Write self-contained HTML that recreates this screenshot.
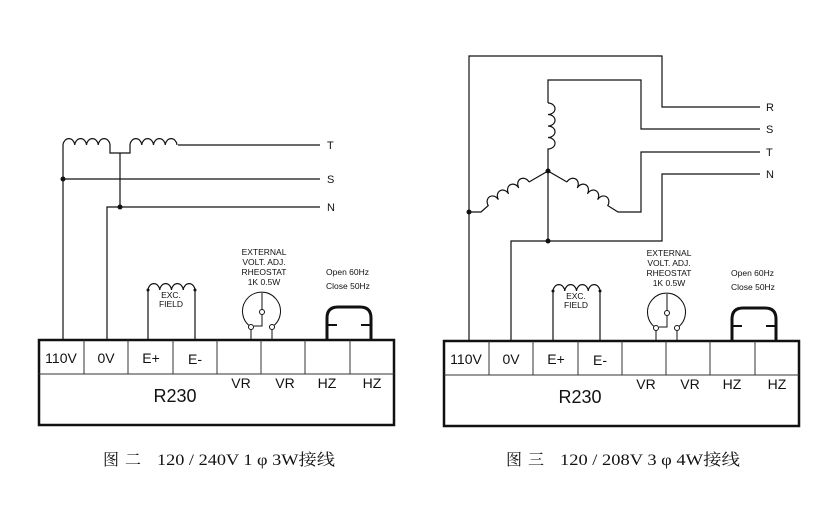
<!DOCTYPE html>
<html><head><meta charset="utf-8"><style>
html,body{margin:0;padding:0;background:#fff;width:835px;height:524px;overflow:hidden}
svg{display:block}
text{font-family:"Liberation Sans",Arial,sans-serif;fill:#111}
.cap{font-family:"Liberation Serif","Noto Serif CJK SC",serif;font-size:16px}
</style></head><body>
<svg width="835" height="524" viewBox="0 0 835 524" xmlns="http://www.w3.org/2000/svg">
<defs>
<g id="bottom">
  <rect x="39" y="340" width="355" height="85" fill="none" stroke="#111" stroke-width="2.5"/>
  <line x1="39" y1="374" x2="394" y2="374" stroke="#333" stroke-width="1"/>
  <g stroke="#333" stroke-width="1">
    <line x1="84" y1="340" x2="84" y2="374"/>
    <line x1="128" y1="340" x2="128" y2="374"/>
    <line x1="173" y1="340" x2="173" y2="374"/>
    <line x1="217" y1="340" x2="217" y2="374"/>
    <line x1="261" y1="340" x2="261" y2="374"/>
    <line x1="305" y1="340" x2="305" y2="374"/>
    <line x1="350" y1="340" x2="350" y2="374"/>
  </g>
  <g font-size="14">
    <text x="61" y="363" text-anchor="middle">110V</text>
    <text x="106" y="363" text-anchor="middle">0V</text>
    <text x="151" y="363" text-anchor="middle">E+</text>
    <text x="195" y="364" text-anchor="middle">E-</text>
    <text x="241" y="388" text-anchor="middle">VR</text>
    <text x="285" y="388" text-anchor="middle">VR</text>
    <text x="327" y="388" text-anchor="middle">HZ</text>
    <text x="372" y="388" text-anchor="middle">HZ</text>
  </g>
  <text x="175" y="402" font-size="18" text-anchor="middle">R230</text>
  <g fill="none" stroke="#111" stroke-width="1.2">
    <path d="M148 339 V290 M195 339 V290"/>
    <path d="M148 290 a5.9 7 0 0 1 11.75 0 a5.9 7 0 0 1 11.75 0 a5.9 7 0 0 1 11.75 0 a5.9 7 0 0 1 11.75 0"/>
  </g>
  <circle cx="148" cy="290" r="1.5" fill="#111"/><circle cx="195" cy="290" r="1.5" fill="#111"/>
  <text x="171" y="298" font-size="8.5" text-anchor="middle">EXC.</text>
  <text x="171" y="307" font-size="8.5" text-anchor="middle">FIELD</text>
  <g font-size="8.5" text-anchor="middle">
    <text x="264" y="255">EXTERNAL</text>
    <text x="264" y="265">VOLT. ADJ.</text>
    <text x="264" y="275">RHEOSTAT</text>
    <text x="264" y="285">1K 0.5W</text>
  </g>
  <g fill="none" stroke="#111" stroke-width="1">
    <path d="M251 327 A19 19 0 1 1 272 327"/>
    <path d="M262 293 V312"/>
    <path d="M262 315 V326 H254"/>
    <path d="M251 330 V340 M272 330 V340"/>
  </g>
  <circle cx="262" cy="312" r="2.5" fill="#fff" stroke="#111"/>
  <circle cx="251" cy="327" r="2.5" fill="#fff" stroke="#111"/>
  <circle cx="272" cy="327" r="2.5" fill="#fff" stroke="#111"/>
  <text x="326" y="275" font-size="8.5">Open  60Hz</text>
  <text x="326" y="289" font-size="8.5">Close 50Hz</text>
  <path d="M327 340 V318 Q327 307 338 307 H360 Q371 307 371 318 V340" fill="none" stroke="#111" stroke-width="3"/>
  <path d="M327 325 H337 M361 325 H371" stroke="#111" stroke-width="2"/>
</g>
</defs>

<use href="#bottom"/>
<g fill="none" stroke="#111" stroke-width="1.2">
  <path d="M63 145 V340"/>
  <path d="M107 340 V207 H320"/>
  <path d="M63 179 H320"/>
  <path d="M178 145 H320"/>
  <path d="M63 145 a5.9 7 0 0 1 11.75 0 a5.9 7 0 0 1 11.75 0 a5.9 7 0 0 1 11.75 0 a5.9 7 0 0 1 11.75 0"/>
  <path d="M130 145 a5.9 7 0 0 1 11.75 0 a5.9 7 0 0 1 11.75 0 a5.9 7 0 0 1 11.75 0 a5.9 7 0 0 1 11.75 0"/>
  <path d="M110 145 V153 H130 V145 M120 153 V207"/>
</g>
<circle cx="63" cy="179" r="2.5" fill="#111"/><circle cx="120" cy="207" r="2.5" fill="#111"/>
<g font-size="11"><text x="327" y="149">T</text><text x="327" y="183">S</text><text x="327" y="211">N</text></g>
<text class="cap" x="103" y="465" letter-spacing="6">图二</text>
<text class="cap" x="157" y="465" textLength="178" lengthAdjust="spacingAndGlyphs">120 / 240V 1 φ  3W接线</text>

<g transform="translate(405,1)"><use href="#bottom"/></g>
<g fill="none" stroke="#111" stroke-width="1.2">
  <path d="M469 341 V56 H662 V107 H760"/>
  <path d="M548 103 V80 H641 V129 H760"/>
  <path d="M548 103 a7 5.75 0 0 1 0 11.5 a7 5.75 0 0 1 0 11.5 a7 5.75 0 0 1 0 11.5 a7 5.75 0 0 1 0 11.5 V241"/>
  <path d="M548 171 L529 182"/>
  <path d="M529 182 a5.5 6.5 -30 0 0 -10.2 5.9 a5.5 6.5 -30 0 0 -10.2 5.9 a5.5 6.5 -30 0 0 -10.2 5.9 a5.5 6.5 -30 0 0 -10.2 5.9 L481 212 H469"/>
  <path d="M548 171 L567 182"/>
  <path d="M567 182 a5.5 6.5 30 0 1 10.2 5.9 a5.5 6.5 30 0 1 10.2 5.9 a5.5 6.5 30 0 1 10.2 5.9 a5.5 6.5 30 0 1 10.2 5.9 L618 212 H641 V152 H760"/>
  <path d="M511 341 V241 H662 V174 H760"/>
</g>
<circle cx="548" cy="171" r="2.5" fill="#111"/><circle cx="469" cy="212" r="2.5" fill="#111"/><circle cx="548" cy="241" r="2.5" fill="#111"/>
<g font-size="11"><text x="766" y="111">R</text><text x="766" y="133">S</text><text x="766" y="156">T</text><text x="766" y="178">N</text></g>
<text class="cap" x="506" y="465" letter-spacing="6">图三</text>
<text class="cap" x="560" y="465" textLength="180" lengthAdjust="spacingAndGlyphs">120 / 208V 3 φ  4W接线</text>
</svg>
</body></html>
